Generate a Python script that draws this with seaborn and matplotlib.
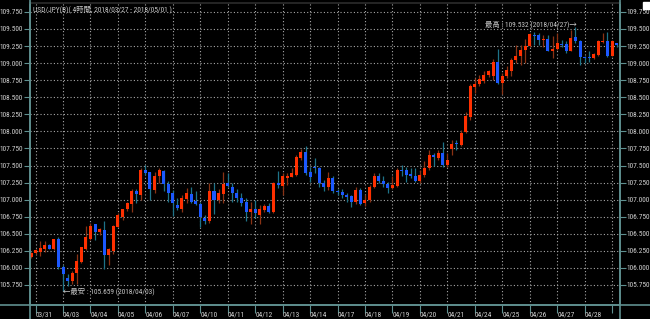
import numpy as np
import pandas as pd
import matplotlib
matplotlib.use("Agg")
import matplotlib.pyplot as plt
import seaborn as sns
from matplotlib import font_manager
from matplotlib.lines import Line2D
from matplotlib.patches import Rectangle

# ---------------- data ----------------
opens = [106.165, 106.214, 106.23, 106.27, 106.33, 106.28, 106.42, 106.01, 105.85, 105.81,
         105.92, 106.09, 106.28, 106.43, 106.64, 106.53, 106.56, 106.19, 106.25, 106.60,
         106.75, 106.86, 106.94, 107.13, 107.07, 107.43, 107.40, 107.14, 107.34, 107.42,
         107.23, 107.10, 106.92, 106.87, 107.01, 107.08, 106.98, 106.94, 106.73, 106.68,
         107.12, 106.99, 107.08, 107.24, 107.19, 107.09, 107.02, 106.96, 106.82, 106.86,
         106.78, 106.85, 106.91, 106.82, 107.24, 107.20, 107.32, 107.33, 107.36, 107.61,
         107.70, 107.40, 107.48, 107.47, 107.25, 107.18, 107.31, 107.13, 107.11, 107.07,
         107.05, 106.96, 107.14, 106.95, 107.00, 107.18, 107.35, 107.28, 107.23, 107.17,
         107.20, 107.44, 107.43, 107.37, 107.35, 107.28, 107.36, 107.46, 107.65, 107.61,
         107.69, 107.51, 107.74, 107.82, 107.80, 107.99, 108.21, 108.65, 108.70, 108.74,
         108.83, 108.81, 109.01, 108.71, 108.81, 108.89, 109.04, 109.10, 109.19, 109.25,
         109.41, 109.41, 109.34, 109.36, 109.18, 109.20, 109.28, 109.28, 109.18, 109.38,
         109.33, 109.09, 109.09, 109.07, 109.12, 109.31, 109.32, 109.11, 109.29]
highs = [106.23, 106.28, 106.40, 106.39, 106.35, 106.43, 106.45, 106.04, 105.91, 105.95,
         106.20, 106.31, 106.61, 106.66, 106.65, 106.58, 106.69, 106.29, 106.63, 106.80,
         106.87, 106.96, 107.15, 107.15, 107.46, 107.51, 107.41, 107.41, 107.46, 107.44,
         107.28, 107.14, 107.03, 107.07, 107.17, 107.19, 107.12, 106.97, 106.78, 107.25,
         107.24, 107.15, 107.40, 107.39, 107.24, 107.15, 107.09, 107.02, 106.96, 106.99,
         106.92, 106.94, 106.95, 107.26, 107.42, 107.39, 107.39, 107.47, 107.66, 107.74,
         107.78, 107.48, 107.61, 107.48, 107.29, 107.40, 107.34, 107.16, 107.16, 107.09,
         107.07, 107.19, 107.17, 107.07, 107.21, 107.39, 107.39, 107.34, 107.26, 107.34,
         107.46, 107.51, 107.48, 107.46, 107.47, 107.43, 107.56, 107.73, 107.68, 107.73,
         107.85, 107.68, 107.88, 107.88, 108.02, 108.29, 108.70, 108.78, 108.83, 108.88,
         108.90, 109.06, 109.20, 108.85, 108.95, 109.07, 109.27, 109.27, 109.36, 109.44,
         109.45, 109.44, 109.41, 109.41, 109.40, 109.44, 109.34, 109.32, 109.49, 109.532,
         109.34, 109.11, 109.17, 109.15, 109.34, 109.44, 109.46, 109.34, 109.30]
lows = [106.15, 106.20, 106.17, 106.24, 106.27, 106.26, 105.99, 105.659, 105.73, 105.77,
        105.77, 106.07, 106.26, 106.41, 106.41, 106.48, 105.98, 106.04, 106.20, 106.60,
        106.70, 106.83, 106.82, 106.95, 107.00, 107.36, 107.00, 107.09, 107.25, 107.12,
        106.97, 106.76, 106.85, 106.82, 106.95, 106.95, 106.92, 106.60, 106.65, 106.66,
        106.79, 106.95, 106.95, 107.19, 106.97, 106.96, 106.90, 106.68, 106.65, 106.73,
        106.65, 106.82, 106.80, 106.80, 107.17, 107.07, 107.22, 107.33, 107.34, 107.58,
        107.36, 107.26, 107.39, 107.19, 107.12, 107.14, 107.09, 107.07, 107.02, 106.97,
        106.89, 106.94, 106.92, 106.90, 106.97, 107.17, 107.25, 107.18, 107.09, 107.15,
        107.19, 107.34, 107.26, 107.31, 107.26, 107.25, 107.33, 107.44, 107.49, 107.58,
        107.48, 107.48, 107.66, 107.73, 107.78, 107.98, 108.17, 108.56, 108.66, 108.71,
        108.80, 108.75, 108.70, 108.55, 108.78, 108.81, 109.00, 108.97, 109.00, 109.24,
        109.27, 109.27, 109.24, 109.17, 109.07, 109.19, 109.24, 109.15, 109.17, 109.29,
        108.97, 109.00, 109.02, 109.06, 109.11, 109.29, 109.09, 109.10, 109.24]
closes = [106.214, 106.263, 106.29, 106.34, 106.28, 106.42, 106.02, 105.91, 105.81, 105.93,
          106.10, 106.30, 106.45, 106.61, 106.53, 106.57, 106.19, 106.27, 106.61, 106.78,
          106.86, 106.95, 107.13, 107.08, 107.43, 107.39, 107.15, 107.35, 107.43, 107.23,
          107.10, 106.95, 106.88, 107.02, 107.09, 106.97, 106.94, 106.74, 106.68, 107.12,
          106.99, 107.09, 107.23, 107.20, 107.09, 107.02, 106.95, 106.82, 106.87, 106.81,
          106.86, 106.91, 106.82, 107.24, 107.22, 107.35, 107.35, 107.39, 107.63, 107.70,
          107.39, 107.33, 107.46, 107.24, 107.18, 107.31, 107.12, 107.11, 107.07, 107.04,
          106.97, 107.14, 106.94, 107.00, 107.18, 107.35, 107.28, 107.23, 107.17, 107.22,
          107.44, 107.42, 107.36, 107.35, 107.28, 107.36, 107.46, 107.66, 107.62, 107.69,
          107.51, 107.58, 107.82, 107.81, 107.97, 108.22, 108.66, 108.70, 108.76, 108.83,
          108.88, 109.01, 108.71, 108.81, 108.90, 109.04, 109.11, 109.19, 109.25, 109.43,
          109.40, 109.34, 109.36, 109.18, 109.20, 109.30, 109.27, 109.18, 109.37, 109.32,
          109.09, 109.07, 109.08, 109.14, 109.32, 109.33, 109.11, 109.32, 109.27]

day_labels = ["03/31", "04/03", "04/04", "04/05", "04/06", "04/07", "04/10", "04/11",
              "04/12", "04/13", "04/14", "04/17", "04/18", "04/19", "04/20", "04/21",
              "04/24", "04/25", "04/26", "04/27", "04/28", ""]
y_ticks = [105.75, 106.0, 106.25, 106.5, 106.75, 107.0, 107.25, 107.5, 107.75,
           108.0, 108.25, 108.5, 108.75, 109.0, 109.25, 109.5, 109.75]
title_text = "USD/JPY(B)( 4時間, 2018/03/27 - 2018/05/01 )"
low_date = "2018/04/03"
high_date = "2018/04/27"

# ---------------- style ----------------
sns.set_theme(style="dark", rc={
    "figure.facecolor": "black", "axes.facecolor": "black",
    "axes.edgecolor": "#5f9090", "text.color": "#d0d0d0",
    "xtick.color": "#5f9090", "ytick.color": "#5f9090",
    "xtick.labelcolor": "#d0d0d0", "ytick.labelcolor": "#d0d0d0",
})
names = {f.name for f in font_manager.fontManager.ttflist}
base = "DejaVu Sans Mono"
for cand in ["Liberation Sans Narrow", "DejaVu Sans Condensed", "Roboto Condensed",
             "DejaVu Sans Mono"]:
    if cand in names:
        base = cand
        break
plt.rcParams["font.family"] = [base, "Noto Sans CJK JP", "DejaVu Sans"]

W, H = 650, 319
fig = plt.figure(figsize=(W / 100, H / 100), dpi=100)

# calibrate font size so "109.750" is ~24 px wide, like the reference
renderer = fig.canvas.get_renderer()
probe = fig.text(0, 0, "109.750", fontsize=10)
pw = probe.get_window_extent(renderer).width
probe.remove()
fs = 10 * 23.5 / pw

df = pd.DataFrame({"open": opens, "high": highs, "low": lows, "close": closes})
df["x"] = np.arange(len(df))
bull = df["close"] >= df["open"]
body_col = np.where(bull, "#ff3000", "#1c58ff")
wick_col = np.where(bull, "#8a3214", "#1e7388")

ax = fig.add_axes([30 / W, (H - 305) / H, 590 / W, 302 / H])
ax.set_facecolor("black")

# grid
grid_pos = [1 + 6 * k for k in range(len(day_labels))]
for g in grid_pos:
    ax.axvline(g, color="#a8a8a8", lw=0.8, ls=(0, (1, 2)), zorder=0)
for yv in y_ticks:
    ax.axhline(yv, color="#a8a8a8", lw=0.8, ls=(0, (1, 2)), zorder=0)

# candles
ax.vlines(df["x"], df["low"], df["high"], colors=wick_col, lw=0.9, zorder=2)
bottoms = np.minimum(df["open"], df["close"])
heights = np.maximum(np.abs(df["close"] - df["open"]), 0.014)
ax.bar(df["x"], heights, bottom=bottoms, width=0.66, color=body_col, linewidth=0, zorder=3)

ax.set_xlim(-0.22, 128.74)
ax.set_ylim(105.457, 109.88)

ax.set_yticks(y_ticks)
ax.set_yticklabels([f"{v:.3f}" for v in y_ticks])
ax.tick_params(axis="y", which="both", left=True, right=True, labelleft=True, labelright=True,
               length=4, width=0.8, pad=1, labelsize=fs, direction="out")
ax.set_xticks(grid_pos)
ax.set_xticklabels(day_labels)
ax.tick_params(axis="x", length=6, width=0.8, pad=-1, labelsize=fs, direction="out", bottom=True)
for lab in ax.get_xticklabels():
    lab.set_horizontalalignment("left")
ax.grid(False)
for s in ["left", "right", "bottom"]:
    ax.spines[s].set_color("#5f9090")
    ax.spines[s].set_linewidth(1.2)
ax.spines["top"].set_color("#2a2a2a")

# title inside plot
ax.text(0.005, 0.99, title_text, transform=ax.transAxes, ha="left", va="top",
        fontsize=fs, color="#c8c8c8")

# annotations min/max
i_lo = int(np.argmin(df["low"]))
i_hi = int(np.argmax(df["high"]))
ax.text(i_lo - 0.1, df["low"][i_lo] - 0.005, f"←最安 : {df['low'][i_lo]:.3f} ({low_date})",
        ha="left", va="center", fontsize=fs, color="#c8c8c8", zorder=5)
ax.text(i_hi + 0.3, df["high"][i_hi] + 0.03, f"最高 : {df['high'][i_hi]:.3f} ({high_date})→",
        ha="right", va="center", fontsize=fs, color="#c8c8c8", zorder=5)

# frame lines extending across figure
fig.add_artist(Line2D([0, 1], [(H - 305) / H] * 2, color="#5f9090", lw=1.2))
fig.add_artist(Line2D([30 / W] * 2, [0, 1], color="#5f9090", lw=1.2))
fig.add_artist(Line2D([620 / W] * 2, [0, 1], color="#5f9090", lw=1.2))
fig.add_artist(Rectangle((643 / W, (H - 9) / H), 7 / W, 7 / H, color="white",
                         transform=fig.transFigure))

fig.savefig("out.png", dpi=100, facecolor="black")
